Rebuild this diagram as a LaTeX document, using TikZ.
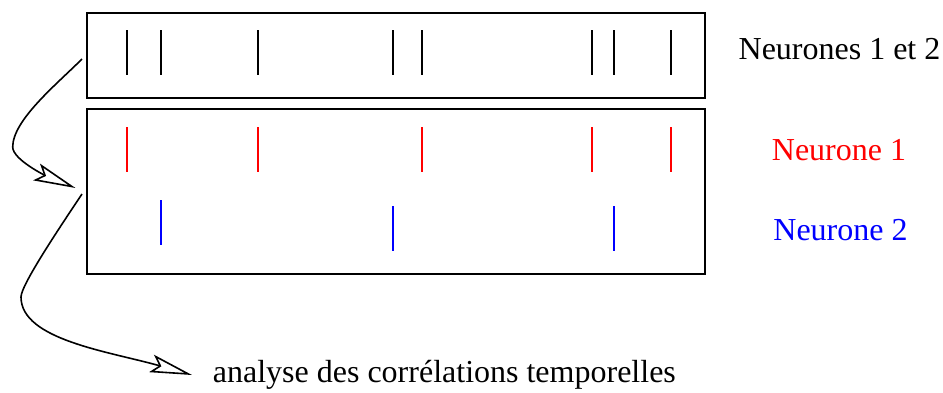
\documentclass[tikz,border=0pt]{standalone}
\usepackage{fontspec}
\setmainfont{Liberation Serif}
\usepackage{tikz}
\usetikzlibrary{arrows.meta,positioning}
\usepackage{xcolor}
\definecolor{nred}{RGB}{255,0,0}
\definecolor{nblue}{RGB}{0,0,255}
\tikzstyle{bigarrow} = [line width=0.8pt,-{Stealth[open,length=21pt,width=9pt,inset=4pt]}]

\begin{document}
\begin{tikzpicture}[
    x=0.5pt, y=-0.5pt,
    every node/.style={font=\fontsize{16}{19}\selectfont},
    train/.style={rectangle, draw, line width=1pt, minimum width=309pt, inner sep=0pt},
    spike/.style={line width=0.6pt},
    label/.style={anchor=base}
]
\useasboundingbox (0,0) rectangle (943,392);

% Boxes
\node[train, minimum height=42.5pt] (both) at (396,55.5) {};
\node[train, minimum height=82.25pt] (pair) at (396,191.25) {};

% Spikes, neurones 1 et 2
\draw[spike] (127,30) -- (127,75);
\draw[spike] (161,30) -- (161,75);
\draw[spike] (258,30) -- (258,75);
\draw[spike] (393,30) -- (393,75);
\draw[spike] (422,30) -- (422,75);
\draw[spike] (592,30) -- (592,75);
\draw[spike] (614,30) -- (614,75);
\draw[spike] (671,30) -- (671,75);

% Spikes, neurone 1
\draw[spike, nred] (127,127) -- (127,172);
\draw[spike, nred] (258,127) -- (258,172);
\draw[spike, nred] (422,127) -- (422,172);
\draw[spike, nred] (592,127) -- (592,172);
\draw[spike, nred] (671,127) -- (671,172);

% Spikes, neurone 2
\draw[spike, nblue] (161,200) -- (161,245);
\draw[spike, nblue] (393,206) -- (393,251);
\draw[spike, nblue] (614,206) -- (614,251);

% Labels
\node[label] (lboth) at (839.5,59) {Neurones 1 et 2};
\node[label, nred] (lone) at (839,160) {Neurone 1};
\node[label, nblue] (ltwo) at (840.5,240) {Neurone 2};
\node[anchor=west, inner xsep=10.25pt, inner ysep=0pt] (analyse) at (192,375) {analyse des corrélations temporelles};

% Arrows
\coordinate (from1) at (82,59);
\coordinate (to1) at (75.5,188);
\coordinate (from2) at (82,194);
\draw[bigarrow] (from1) .. controls (57,84) and (12.7,120) .. (12.7,147)
    .. controls (12.7,160) and (48,176.7) .. (to1);
\draw[bigarrow] (from2) .. controls (60,227) and (21,285) .. (21,297)
    .. controls (21,340) and (110,351.6) .. (analyse.west);

\end{tikzpicture}
\end{document}
